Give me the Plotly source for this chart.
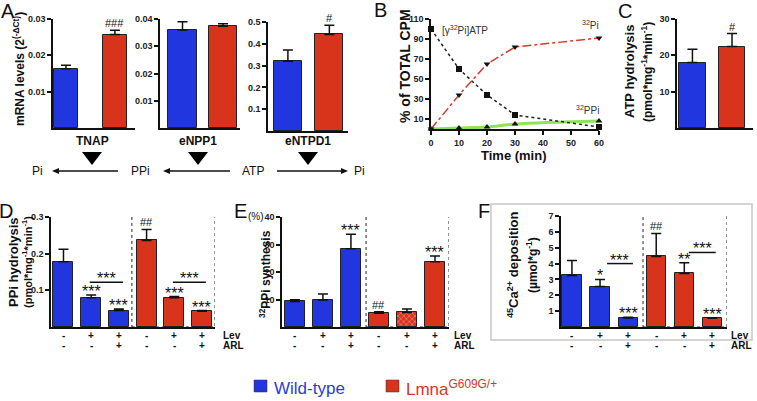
import plotly.graph_objects as go

W, H = 757, 401
def px(x): return x / W
def py(y): return 1 - y / H

BLUE = '#2236E0'
RED = '#D8341C'
FONT = 'Liberation Sans, Arial, sans-serif'

# ---------------- data ----------------
a_genes = ['TNAP', 'eNPP1', 'eNTPD1']
a_wt = [0.0163, 0.0360, 0.320]
a_wt_err = [0.0010, 0.0030, 0.052]
a_mut = [0.0257, 0.0373, 0.443]
a_mut_err = [0.0012, 0.0010, 0.042]
a_sig = ['###', '', '#']
a_ticks = [[0.01, 0.02, 0.03], [0.01, 0.02, 0.03, 0.04], [0.1, 0.2, 0.3, 0.4, 0.5]]
a_ticktext = [['0.01', '0.02', '0.03'], ['0.01', '0.02', '0.03', '0.04'], ['0.1', '0.2', '0.3', '0.4', '0.5']]

b_time = [0, 10, 20, 30, 60]
b_atp = [100, 60, 34, 14, 2]
b_pi = [0, 34, 65, 82, 91]
b_ppi = [0, 1, 2, 5, 8]

c_vals = [18.0, 22.4]
c_err = [3.7, 3.6]
c_sig = ['', '#']

lev = ['-', '+', '+', '-', '+', '+']
arl = ['-', '-', '+', '-', '-', '+']
d_vals = [0.178, 0.080, 0.045, 0.236, 0.080, 0.043]
d_err = [0.034, 0.007, 0.004, 0.030, 0.003, 0.002]
d_sig = ['', '***', '***', '##', '***', '***']
e_vals = [9.3, 9.8, 28.5, 5.0, 5.3, 23.7]
e_err = [0.6, 2.2, 5.2, 0.5, 1.2, 2.1]
e_sig = ['', '', '***', '##', '', '***']
f_vals = [3.25, 2.55, 0.57, 4.45, 3.38, 0.55]
f_err = [0.95, 0.45, 0.05, 1.45, 0.67, 0.04]
f_sig = ['', '*', '***', '##', '**', '***']
group_colors = [BLUE, BLUE, BLUE, RED, RED, RED]

fig = go.Figure()
ann = []
shapes = []

def axis_common():
    return dict(showline=True, linecolor='#111', linewidth=1.5, showgrid=False, zeroline=False,
                ticks='outside', ticklen=4, tickwidth=1.5, tickcolor='#111', automargin=False,
                tickfont=dict(family=FONT, size=9, color='#222', weight='bold'))

def set_axes(n, xpx, ypx, xr, yr, yticks, yticktext=None, xticks=None):
    xa = axis_common()
    xa.update(domain=[px(xpx[0]), px(xpx[1])], range=xr, anchor='y' if n == 1 else f'y{n}')
    if xticks is None:
        xa.update(showticklabels=False, ticks='')
    else:
        xa.update(tickvals=xticks)
    ya = axis_common()
    ya.update(domain=[py(ypx[1]), py(ypx[0])], range=yr, tickvals=yticks,
              anchor='x' if n == 1 else f'x{n}')
    if yticktext:
        ya.update(ticktext=yticktext)
    fig.layout['xaxis' if n == 1 else f'xaxis{n}'] = xa
    fig.layout['yaxis' if n == 1 else f'yaxis{n}'] = ya

def axref(n):
    return ('x' if n == 1 else f'x{n}'), ('y' if n == 1 else f'y{n}')

def add_bars(n, vals, errs, colors, width, patterns=None):
    xr_, yr_ = axref(n)
    m = dict(color=colors, line=dict(color='#222', width=1))
    if patterns:
        m['pattern'] = dict(shape=patterns, fgcolor='#7a1a0c', size=4, solidity=0.25)
    fig.add_trace(go.Bar(x=list(range(len(vals))), y=vals, width=width, marker=m,
                         error_y=dict(type='data', array=errs, arrayminus=[0] * len(vals),
                                      symmetric=False, color='#111', thickness=1.5, width=5),
                         xaxis=xr_, yaxis=yr_, showlegend=False, cliponaxis=False))

def sig_ann(x, y, xr_, yr_, s):
    star = s.startswith('*')
    return dict(x=x, y=y, xref=xr_, yref=yr_, text=s, showarrow=False,
                xanchor='center', yanchor='bottom', yshift=-7 if star else -1,
                font=dict(family=FONT, size=16 if star else 11, color='#111'))

def add_sig(n, vals, errs, sigs):
    xr_, yr_ = axref(n)
    for i, s in enumerate(sigs):
        if s:
            ann.append(sig_ann(i, vals[i] + errs[i], xr_, yr_, s))

def add_signs(n, lab_x):
    xr_, _ = axref(n)
    for i in range(6):
        for row, yy in ((lev, 335), (arl, 345)):
            ann.append(dict(x=i, y=py(yy), xref=xr_, yref='paper', text=row[i], showarrow=False,
                            xanchor='center', yanchor='middle',
                            font=dict(family=FONT, size=10, color='#111', weight='bold')))
    for t, yy in (('Lev', 335), ('ARL', 345)):
        ann.append(dict(x=px(lab_x), y=py(yy), xref='paper', yref='paper', text=t, showarrow=False,
                        xanchor='left', yanchor='middle',
                        font=dict(family=FONT, size=10, color='#111', weight='bold')))

def ytitle(x, y, text, size=13, bold=True):
    ann.append(dict(x=px(x), y=py(y), xref='paper', yref='paper', text=text, showarrow=False,
                    textangle=-90, xanchor='center', yanchor='middle',
                    font=dict(family=FONT, size=size, color='#111',
                              weight='bold' if bold else 'normal')))

def text(x, y, t, size=12, bold=False, xanchor='center', color='#111'):
    ann.append(dict(x=px(x), y=py(y), xref='paper', yref='paper', text=t, showarrow=False,
                    xanchor=xanchor, yanchor='middle',
                    font=dict(family=FONT, size=size, color=color,
                              weight='bold' if bold else 'normal')))

# ---------------- Panel A ----------------
a_geom = [((53, 135), (19, 128), [-0.265, 1.41], [0, 0.03], 0.49),
          ((160, 240), (19, 128), [-0.556, 1.42], [0, 0.04], 0.716),
          ((268, 348), (22, 131), [-0.48, 1.45], [0, 0.5], 0.675)]
for k in range(3):
    n = k + 1
    xp, yp, xr, yr, wd = a_geom[k]
    set_axes(n, xp, yp, xr, yr, a_ticks[k], a_ticktext[k])
    add_bars(n, [a_wt[k], a_mut[k]], [a_wt_err[k], a_mut_err[k]], [BLUE, RED], wd)
    add_sig(n, [a_wt[k], a_mut[k]], [a_wt_err[k], a_mut_err[k]], ['', a_sig[k]])

ytitle(19, 69, 'mRNA levels (2<sup>(-ΔCt)</sup>)', size=12)
for g, cx in zip(a_genes, [92, 198, 308]):
    text(cx, 141, g, size=12, bold=True)
    shapes.append(dict(type='path', xref='paper', yref='paper',
                       path=f'M {px(cx-10)} {py(152)} L {px(cx+10)} {py(152)} L {px(cx)} {py(165)} Z',
                       fillcolor='#000', line=dict(width=0)))
for t, cx in zip(['Pi', 'PPi', 'ATP', 'Pi'], [37, 140, 253, 359]):
    text(cx, 171, t, size=12)
# reaction arrows (line + head)
for head, tail in ((52, 118), (163, 230), (348, 277)):
    d = -1 if head < tail else 1
    shapes.append(dict(type='line', xref='paper', yref='paper', x0=px(tail), x1=px(head - d * 4),
                       y0=py(171), y1=py(171), line=dict(color='#111', width=1.3)))
    shapes.append(dict(type='path', xref='paper', yref='paper',
                       path=f'M {px(head)} {py(171)} L {px(head - d*7)} {py(168)} L {px(head - d*7)} {py(174)} Z',
                       fillcolor='#111', line=dict(width=0)))

# ---------------- Panel B ----------------
set_axes(4, (431, 599), (19, 129), [0, 60], [0, 110], [10, 30, 50, 70, 90, 110], xticks=[0, 10, 20, 30, 40, 50, 60])
fig.add_trace(go.Scatter(x=b_time, y=b_ppi, mode='lines+markers', xaxis='x4', yaxis='y4',
                         line=dict(color='#8EE35A', width=3, shape='spline'),
                         marker=dict(symbol='triangle-up', size=6, color='#111'),
                         showlegend=False, cliponaxis=False))
fig.add_trace(go.Scatter(x=b_time, y=b_atp, mode='lines+markers', xaxis='x4', yaxis='y4',
                         line=dict(color='#222', width=1.5, dash='dot'),
                         marker=dict(symbol='square', size=6, color='#111'),
                         showlegend=False, cliponaxis=False))
fig.add_trace(go.Scatter(x=b_time, y=b_pi, mode='lines+markers', xaxis='x4', yaxis='y4',
                         line=dict(color='#D23C2A', width=1.5, dash='dashdot'),
                         marker=dict(symbol='triangle-down', size=6, color='#111'),
                         showlegend=False, cliponaxis=False))
text(440, 30, '[γ<sup>32</sup>Pi]ATP', size=10, xanchor='left', color='#333')
text(601, 25, '<sup>32</sup>Pi', size=10, xanchor='right', color='#333')
text(601, 110, '<sup>32</sup>PPi', size=10, xanchor='right', color='#333')
ytitle(405, 66, '% of TOTAL CPM', size=14)
text(514, 155, 'Time (min)', size=13, bold=True)

# ---------------- Panel C ----------------
set_axes(5, (677, 753), (19, 128), [-0.39, 1.53], [0, 30], [10, 20, 30])
add_bars(5, c_vals, c_err, [BLUE, RED], 0.66)
add_sig(5, c_vals, c_err, c_sig)
ytitle(629, 72, 'ATP hydrolysis', size=13)
ytitle(647, 72, '(pmol*mg<sup>-1</sup>*min<sup>-1</sup>)', size=12)

# ---------------- Panel D ----------------
set_axes(6, (51, 215), (217, 327), [-0.45, 5.47], [0, 0.3], [0.1, 0.2, 0.3], ['0.1', '0.2', '0.3'])
add_bars(6, d_vals, d_err, group_colors, 0.72)
add_sig(6, d_vals, d_err, d_sig)
add_signs(6, 221)
for x0, x1, yb in ((0.95, 2.15, 0.122), (3.95, 5.14, 0.122)):
    shapes.append(dict(type='line', xref='x6', yref='y6', x0=x0, x1=x1, y0=yb, y1=yb,
                       line=dict(color='#111', width=1.5)))
    ann.append(sig_ann((x0 + x1) / 2, yb, 'x6', 'y6', '***'))
shapes.append(dict(type='rect', xref='x6', yref='y6', x0=2.47, x1=5.47, y0=0, y1=0.308,
                   line=dict(color='#222', width=1, dash='dot')))
ytitle(13, 262, 'PPi hydrolysis', size=13)
ytitle(27, 262, '(pmol*mg<sup>-1</sup>*min<sup>-1</sup>)', size=11)

# ---------------- Panel E ----------------
set_axes(7, (282, 449), (217, 327), [-0.46, 5.5], [0, 40], [10, 20, 30, 40])
add_bars(7, e_vals, e_err, group_colors, 0.7, patterns=['', '', '', '', 'x', ''])
add_sig(7, e_vals, e_err, e_sig)
add_signs(7, 452)
shapes.append(dict(type='rect', xref='x7', yref='y7', x0=2.54, x1=5.5, y0=0, y1=41.1,
                   line=dict(color='#222', width=1, dash='dot')))
ytitle(265, 274, '<sup>32</sup>PPi synthesis', size=12)
text(256, 216, '(%)', size=10)

# ---------------- Panel F ----------------
shapes.append(dict(type='rect', xref='paper', yref='paper', x0=px(491), x1=px(752), y0=py(340), y1=py(204),
                   line=dict(color='#C8C8C8', width=1.5)))
set_axes(8, (561, 727), (216, 327), [-0.39, 5.52], [0, 7], [1, 2, 3, 4, 5, 6, 7])
add_bars(8, f_vals, f_err, group_colors, 0.68)
add_sig(8, f_vals, f_err, f_sig)
add_signs(8, 729)
for x0, x1, yb in ((1.25, 2.17, 4.0), (4.16, 5.12, 4.7)):
    shapes.append(dict(type='line', xref='x8', yref='y8', x0=x0, x1=x1, y0=yb, y1=yb,
                       line=dict(color='#111', width=1.5)))
    ann.append(sig_ann((x0 + x1) / 2, yb, 'x8', 'y8', '***'))
shapes.append(dict(type='rect', xref='x8', yref='y8', x0=2.53, x1=5.52, y0=0, y1=7.06,
                   line=dict(color='#222', width=1, dash='dot')))
ytitle(513, 265, '<sup>45</sup>Ca<sup>2+</sup> deposition', size=13)
ytitle(532, 265, '(µmol*g<sup>-1</sup>)', size=12)

# ---------------- Panel letters ----------------
for t, x, y in (('A', 8, 11), ('B', 380, 10), ('C', 625, 11), ('D', 6, 211), ('E', 240, 211), ('F', 484, 211)):
    text(x, y, t, size=20)

# ---------------- Legend ----------------
shapes.append(dict(type='rect', xref='paper', yref='paper', x0=px(254), x1=px(267), y0=py(392), y1=py(380),
                   fillcolor=BLUE, line=dict(color='#333', width=0.5)))
shapes.append(dict(type='rect', xref='paper', yref='paper', x0=px(386), x1=px(399), y0=py(392), y1=py(380),
                   fillcolor=RED, line=dict(color='#333', width=0.5)))
text(272, 388, 'Wild-type', size=17, xanchor='left', color='#2C3BD8')
text(404, 388, 'Lmna<sup>G609G/+</sup>', size=17, xanchor='left', color='#D8341C')

fig.update_layout(width=W, height=H, margin=dict(l=0, r=0, t=0, b=0, pad=0, autoexpand=False),
                  paper_bgcolor='white', plot_bgcolor='rgba(0,0,0,0)',
                  annotations=ann, shapes=shapes, bargap=0, showlegend=False,
                  font=dict(family=FONT))
fig.write_html('out.html', config={'displayModeBar': False},
               post_script="document.body.style.margin='0';document.body.style.overflow='hidden';")
